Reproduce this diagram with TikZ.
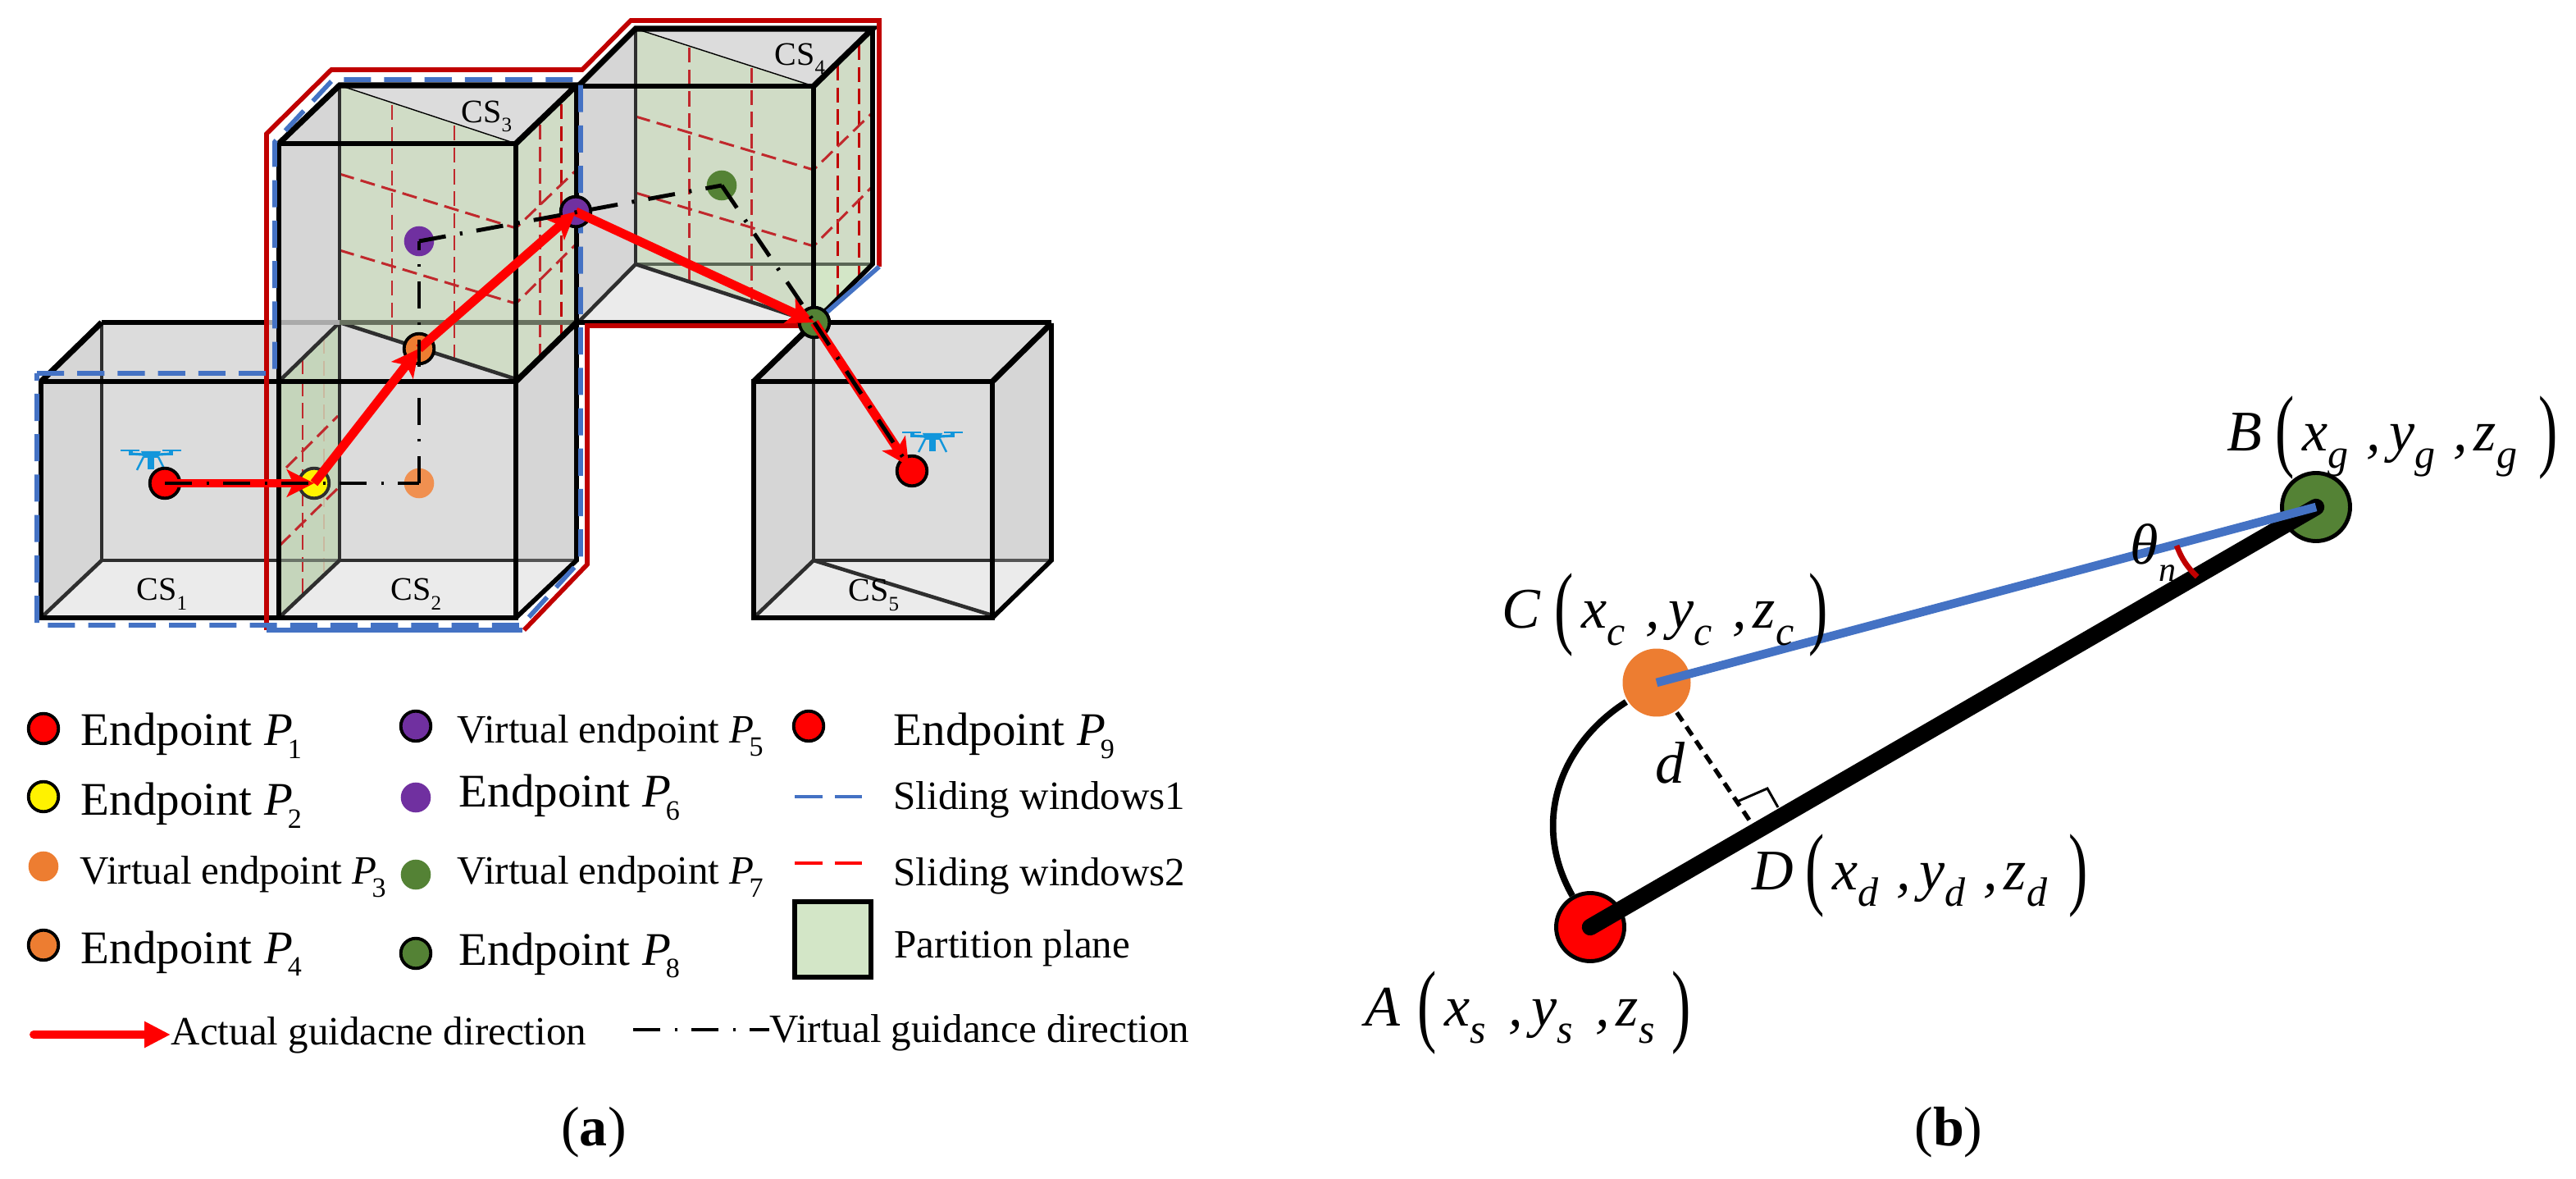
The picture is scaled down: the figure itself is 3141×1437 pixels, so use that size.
\documentclass[tikz,border=0pt]{standalone}
\usepackage{fontspec}
\setmainfont{Liberation Serif}
\usetikzlibrary{arrows.meta}
\newlength\px \setlength\px{0.28453pt}
\newcommand\pxfont[1]{\edef\tmpfs{\fpeval{#1*0.28453}}\edef\tmpfl{\fpeval{#1*0.3}}\fontsize{\tmpfs}{\tmpfl}\selectfont}
\newcommand\Pn[1]{\textit{P}\kern-6\px\raisebox{-15\px}{\pxfont{34}#1}}
\newcommand\CSn[1]{CS\raisebox{-11\px}{\pxfont{25}#1}}
\newcommand\tpar[1]{\raisebox{-10\px}{\scalebox{1}[1.6]{#1}}}
\newcommand\vsub[2]{\textit{#1}\raisebox{-20\px}{\pxfont{50}\textit{#2}}}
\newcommand\tuple[4]{\pxfont{70}\makebox[#3\px][l]{\textit{#1}}\makebox[33\px][l]{\tpar{(}}\makebox[78\px][l]{\vsub{x}{#2}}\makebox[28\px][l]{\textit{,}}\makebox[78\px][l]{\vsub{y}{#2}}\makebox[25\px][l]{\textit{,}}\makebox[#4\px][l]{\vsub{z}{#2}}\tpar{)}}
\definecolor{wgray}{HTML}{DCDCDC}
\definecolor{lgray}{HTML}{D6D6D6}
\definecolor{fgray}{HTML}{EBEBEB}
\definecolor{dgray}{HTML}{2E2E2E}
\definecolor{plA}{HTML}{D0DCC6}
\definecolor{plB}{HTML}{C5D5BB}
\definecolor{plC}{HTML}{D3E6C7}
\definecolor{wred}{HTML}{C00000}
\definecolor{dred}{HTML}{C0282C}
\definecolor{wblue}{HTML}{4472C4}
\definecolor{cpurple}{HTML}{7030A0}
\definecolor{corange}{HTML}{ED7D31}
\definecolor{cgreen}{HTML}{548235}
\definecolor{drone}{HTML}{1296DB}
\newcommand\dronepic[2]{\begin{scope}[shift={(#1,#2)},drone]
\fill (-37,0) rectangle (-14,2);\fill (14,0) rectangle (37,2);
\fill (-27,1) rectangle (-22,7);\fill (22,1) rectangle (27,7);
\draw[line width=0.9pt] (-25,5) -- (-10,6);\draw[line width=0.9pt] (25,5) -- (10,6);
\fill (-12,2) -- (12,2) -- (9,10) -- (-9,10) -- cycle;
\draw[line width=0.7pt] (-9,9) -- (-17,25);\draw[line width=0.7pt] (9,9) -- (17,25);
\fill (-4,10) rectangle (4,24);
\end{scope}}
\tikzset{
 x=0.01cm,y=-0.01cm,
 front/.style={line width=1.6pt,black,line join=miter},
 heavy/.style={line width=2pt,black},
 back/.style={line width=1.3pt,dgray},
 rdash/.style={line width=0.85pt,dred,dash pattern=on 5.2pt off 2.4pt},
 rdashb/.style={line width=0.85pt,wred,dash pattern=on 5.2pt off 2.4pt},
 winred/.style={line width=1.6pt,wred,line join=miter},
 winblue/.style={line width=1.6pt,wblue,dash pattern=on 9.4pt off 4.6pt,line join=miter},
 winbluesolid/.style={line width=1.6pt,wblue},
 dot/.style={circle,inner sep=0pt,minimum size=10.4pt,line width=1.1pt},
 ptframed/.style={dot,draw=black},
 bigdot/.style={circle,inner sep=0pt,minimum size=23.6pt,line width=1.4pt},
 actual/.style={line width=3.1pt,red,-{Stealth[length=9.4pt,width=9.4pt,inset=2.2pt]}},
 virtualline/.style={line width=1.4pt,black,dash pattern=on 9.4pt off 5pt on 0.9pt off 4.9pt},
 lbl/.style={inner sep=0pt,anchor=base west},
 lbig/.style={lbl,font=\pxfont{57}},
 lsm/.style={lbl,font=\pxfont{49}},
 lcs/.style={lbl,font=\pxfont{40}},
}
\begin{document}
\begin{tikzpicture}
\useasboundingbox (0,0) rectangle (3141,1437);
\fill[white] (0,0) rectangle (3141,1437);

% ---------- fills
% CS1
\fill[wgray] (50,465) -- (124,393) -- (414,393) -- (414,683) -- (340,753) -- (50,753) -- cycle;
\fill[lgray] (50,465) -- (124,393) -- (124,683) -- (50,753) -- cycle;
\fill[fgray] (50,753) -- (124,683) -- (414,683) -- (340,753) -- cycle;
% CS2
\fill[wgray] (340,465) -- (414,393) -- (703,393) -- (703,683) -- (629,753) -- (340,753) -- cycle;
\fill[lgray] (629,465) -- (703,393) -- (703,683) -- (629,753) -- cycle;
\fill[fgray] (340,753) -- (414,683) -- (703,683) -- (629,753) -- cycle;
% CS3
\fill[wgray] (340,175) -- (414,104) -- (703,104) -- (703,393) -- (629,465) -- (340,465) -- cycle;
\fill[lgray] (340,175) -- (414,104) -- (414,393) -- (340,465) -- cycle;
% CS4
\fill[wgray] (705,105) -- (775,35) -- (1064,35) -- (992,105) -- cycle;
\fill[lgray] (705,105) -- (775,35) -- (775,322) -- (705,393) -- cycle;
\fill[fgray] (705,393) -- (775,322) -- (992,393) -- cycle;
% CS5
\fill[wgray] (919,465) -- (992,394) -- (1282,394) -- (1282,683) -- (1210,753) -- (919,753) -- cycle;
\fill[lgray] (919,465) -- (992,394) -- (992,683) -- (919,753) -- cycle;
\fill[lgray] (1210,465) -- (1282,394) -- (1282,683) -- (1210,753) -- cycle;
\fill[fgray] (919,753) -- (992,683) -- (1282,683) -- (1210,753) -- cycle;
% partition planes
\fill[plB] (341,462) -- (414,393) -- (414,683) -- (341,752) -- cycle;
\fill[plA] (414,104) -- (629,175) -- (629,462) -- (414,393) -- cycle;
\fill[plA] (629,175) -- (703,104) -- (703,393) -- (629,462) -- cycle;
\fill[plA] (775,35) -- (992,105) -- (992,393) -- (775,322) -- cycle;
\fill[plA] (992,105) -- (1064,35) -- (1064,322) -- (992,393) -- cycle;
\fill[plC] (992,322) -- (1064,322) -- (992,393) -- cycle;

% ---------- red dashed lines on the planes
\draw[rdash] (478,128) -- (478,413);
\draw[rdash] (554,153) -- (554,438);
\draw[rdash] (658,152) -- (658,435);
\draw[rdashb] (684,127) -- (684,410);
\draw[rdash] (414,212) -- (629,278) -- (703,207);
\draw[rdash] (414,305) -- (629,370) -- (703,297);
\draw[rdash] (840,58) -- (840,343);
\draw[rdash] (916,83) -- (916,368);
\draw[rdashb] (1021,80) -- (1021,365);
\draw[rdashb] (1047,55) -- (1047,342);
\draw[rdash] (775,142) -- (992,207) -- (1064,137);
\draw[rdash] (775,235) -- (992,300) -- (1064,227);
\draw[rdash] (369,438) -- (369,723);
\draw[line width=0.85pt,color={rgb,255:red,201;green,185;blue,160},dash pattern=on 5.2pt off 2.4pt] (395,413) -- (395,697);
\draw[rdash] (341,665) -- (414,593);
\draw[rdash] (349,570) -- (412,507);

% ---------- cube edges, back ones first
\draw[back] (124,393) -- (124,683);
\draw[back] (124,683) -- (340,683);
\draw[line width=1.3pt,color={rgb,255:red,107;green,116;blue,104}] (340,683) -- (414,683);
\draw[back] (414,683) -- (629,683);
\draw[line width=1.3pt,color={rgb,255:red,85;green,85;blue,85}] (629,683) -- (703,683);
\draw[back] (50,753) -- (124,683);
\draw[back] (340,753) -- (414,683);
\draw[back] (340,465) -- (414,393);
\draw[back] (414,393) -- (414,683);
\draw[back] (414,104) -- (414,393);
\draw[back] (414,393) -- (629,462);
\draw[line width=0.4pt,black] (414,104) -- (629,175);
\draw[front] (124,393) -- (325,393);
\draw[line width=1.6pt,color={rgb,255:red,170;green,170;blue,170}] (325,393) -- (414,393);
\draw[line width=1.6pt,color={rgb,255:red,104;green,113;blue,95}] (414,393) -- (703,393);
\draw[back] (775,35) -- (775,322);
\draw[line width=1.3pt,color={rgb,255:red,90;green,102;blue,85}] (775,322) -- (1064,322);
\draw[back] (775,322) -- (705,393);
\draw[back] (775,322) -- (992,393);
\draw[line width=0.4pt,black] (775,35) -- (992,105);
\draw[back] (992,394) -- (992,683);
\draw[back] (992,683) -- (1210,683);
\draw[line width=1.3pt,color={rgb,255:red,85;green,85;blue,85}] (1210,683) -- (1282,683);
\draw[back] (919,753) -- (992,683);
\draw[back] (992,683) -- (1210,750);

% ---------- front edges
\draw[front] (50,465) rectangle (340,753);
\draw[front] (340,465) -- (629,465) -- (629,753) -- (340,753);
\draw[heavy] (50,465) -- (124,393);
\draw[front] (629,753) -- (703,683) -- (703,104);
\draw[heavy] (629,465) -- (703,393);
\draw[front] (340,465) -- (340,175) -- (629,175) -- (629,465);
\draw[heavy] (340,175) -- (414,104) -- (703,104) -- (629,175);
\draw[front] (705,105) -- (992,105) -- (992,393);
\draw[heavy] (705,105) -- (775,35) -- (1064,35) -- (992,105);
\draw[front] (1064,35) -- (1064,322) -- (992,393);
\draw[front] (705,393) -- (1282,393);
\draw[front] (919,465) rectangle (1210,753);
\draw[heavy] (919,465) -- (992,394);
\draw[heavy] (1210,465) -- (1282,394);
\draw[front] (1282,394) -- (1282,683) -- (1210,753);

% ---------- sliding windows
\draw[winred] (325,768) -- (325,163) -- (404,85) -- (710,85) -- (769,25) -- (1072,25) -- (1072,325);
\draw[winred] (993,397) -- (716,397) -- (716,688) -- (639,768);
\draw[winbluesolid] (325,768) -- (637,768);
\draw[winbluesolid] (1072,325) -- (994,393);
\draw[winblue] (45,455) -- (335,455) -- (335,173) -- (406,97) -- (708,97) -- (708,683) -- (636,762) -- (45,762) -- cycle;

% ---------- labels in the cubes
\node[lcs] (cs1) at (166,732) {\CSn{1}};
\node[lcs] (cs2) at (476,732) {\CSn{2}};
\node[lcs] (cs3) at (562,150) {\CSn{3}};
\node[lcs] (cs4) at (944,80) {\CSn{4}};
\node[lcs] (cs5) at (1034,733) {\CSn{5}};

% ---------- drones
\dronepic{184}{548}
\dronepic{1137}{526}

% ---------- end points
\node[ptframed,fill=red] (P1) at (201,589) {};
\node[ptframed,fill=yellow,draw=dgray] (P2) at (383,589) {};
\node[dot,fill=corange!85!white] (P3) at (511,589) {};
\node[ptframed,fill=corange] (P4) at (511,425) {};
\node[ptframed,fill=cpurple] (P5) at (702,258) {};
\node[dot,fill=cpurple] (P6) at (511,294) {};
\node[dot,fill=cgreen] (P7) at (880,226) {};
\node[ptframed,fill=cgreen] (P8) at (993,393) {};
\node[ptframed,fill=red] (P9) at (1112,574) {};

% ---------- guidance
\draw[actual] (P1.center) -- (P2.center);
\draw[actual] (P2.center) -- (P4.center);
\draw[actual] (P4.center) -- (P5.center);
\draw[actual] (P5.center) -- (P8.center);
\draw[actual,shorten >=2pt] (P8.center) -- (P9.center);
\draw[virtualline] (P1.center) -- (P3.center);
\draw[virtualline] (P3.center) -- (P6.center);
\draw[virtualline] (P6.center) -- (P7.center);
\draw[virtualline] (P7.center) -- (P8.center);
\draw[virtualline,shorten >=2pt] (P8.center) -- (P9.center);

% ---------- legend
\node[ptframed,fill=red] (k1) at (53,888) {};
\node[ptframed,fill=yellow] (k2) at (53,971) {};
\node[dot,fill=corange] (k3) at (53,1056) {};
\node[ptframed,fill=corange] (k4) at (53,1152) {};
\node[ptframed,fill=cpurple] (k5) at (507,885) {};
\node[dot,fill=cpurple] (k6) at (507,972) {};
\node[dot,fill=cgreen] (k7) at (507,1066) {};
\node[ptframed,fill=cgreen] (k8) at (507,1162) {};
\node[ptframed,fill=red] (k9) at (986,885) {};
\node[lbig] (t1) at (98,909) {Endpoint \Pn{1}};
\node[lbig] (t2) at (98,994) {Endpoint \Pn{2}};
\node[lsm] (t3) at (97,1078) {Virtual endpoint \Pn{3}};
\node[lbig] (t4) at (98,1174) {Endpoint \Pn{4}};
\node[lsm] (t5) at (557,906) {Virtual endpoint \Pn{5}};
\node[lbig] (t6) at (559,984) {Endpoint \Pn{6}};
\node[lsm] (t7) at (557,1078) {Virtual endpoint \Pn{7}};
\node[lbig] (t8) at (559,1176) {Endpoint \Pn{8}};
\node[lbig] (t9) at (1089,909) {Endpoint \Pn{9}};
\node[lsm] (t10) at (1089,987) {Sliding windows1};
\node[lsm] (t11) at (1089,1080) {Sliding windows2};
\node[lsm] (t12) at (1090,1167) {Partition plane};
\coordinate (kb1) at (969,971); \coordinate (kb2) at (1051,971);
\coordinate (kr1) at (969,1052); \coordinate (kr2) at (1051,1052);
\draw[line width=1.2pt,wblue,dash pattern=on 9.7pt off 4.2pt] (kb1) -- (kb2);
\draw[line width=1.2pt,red,dash pattern=on 9.7pt off 4.2pt] (kr1) -- (kr2);
\node[draw=black,line width=1.5pt,fill=plC,inner sep=0pt,minimum width=26.5pt,minimum height=26.2pt] (kplane) at (1015.5,1145) {};
\node[lsm] (t13) at (208,1273) {Actual guidacne direction};
\node[lsm] (t14) at (938,1270) {Virtual guidance direction};
\coordinate (ka1) at (41,1261); \coordinate (ka2) at (208,1261);
\draw[line width=2.8pt,red,line cap=round,-{Stealth[length=9.1pt,width=8.6pt,inset=0pt]}] (ka1) -- (ka2);
\coordinate (kv1) at (772,1255); \coordinate (kv2) at (938,1255);
\draw[line width=1.4pt,black,dash pattern=on 9.4pt off 5pt on 0.9pt off 4.9pt] (kv1) -- (kv2);
\node[lbl,font=\pxfont{68},anchor=base] (capa) at (724,1396) {(\textbf{a})};
\node[lbl,font=\pxfont{68},anchor=base] (capb) at (2376,1396) {(\textbf{b})};

% ---------- part b
\node[bigdot,fill=red,draw=black] (A) at (1939,1130) {};
\node[bigdot,fill=cgreen,draw=black] (B) at (2824,618) {};
\node[bigdot,fill=corange] (C) at (2020,832) {};
\coordinate (D) at (2134,1001);
\draw[line width=5.8pt,black,line cap=round] (A.center) -- (B.center);
\draw[line width=3pt,wblue] (C.center) -- (B.center);
\draw[line width=2.2pt,black] (C) .. controls (1905,905) and (1865,1000) .. (A);
\draw[line width=1.5pt,black,dash pattern=on 3.6pt off 2.3pt] (C) -- (D);
\coordinate (ra1) at (2116,978); \coordinate (ra2) at (2155,961); \coordinate (ra3) at (2168,984);
\draw[line width=0.85pt,black] (ra1) -- (ra2) -- (ra3);
\coordinate (an1) at (2654,665); \coordinate (an2) at (2679,703);
\draw[line width=1.9pt,wred] (an1) to[bend right=12] (an2);
\node[lbl] (lB) at (2715,550) {\tuple{B}{g}{59}{79}};
\node[lbl] (lC) at (1831,766) {\tuple{C}{c}{64}{68}};
\node[lbl] (lD) at (2136,1084) {\tuple{D}{d}{65}{79}};
\node[lbl] (lA) at (1664,1251) {\tuple{A}{s}{64}{68}};
\node[lbl,font=\pxfont{72}] (ld) at (2018,955) {\textit{d}};
\node[lbl,font=\pxfont{70}] (lt) at (2597,688) {\textit{θ}\raisebox{-20\px}{\pxfont{42}\textit{n}}};
\end{tikzpicture}
\end{document}
